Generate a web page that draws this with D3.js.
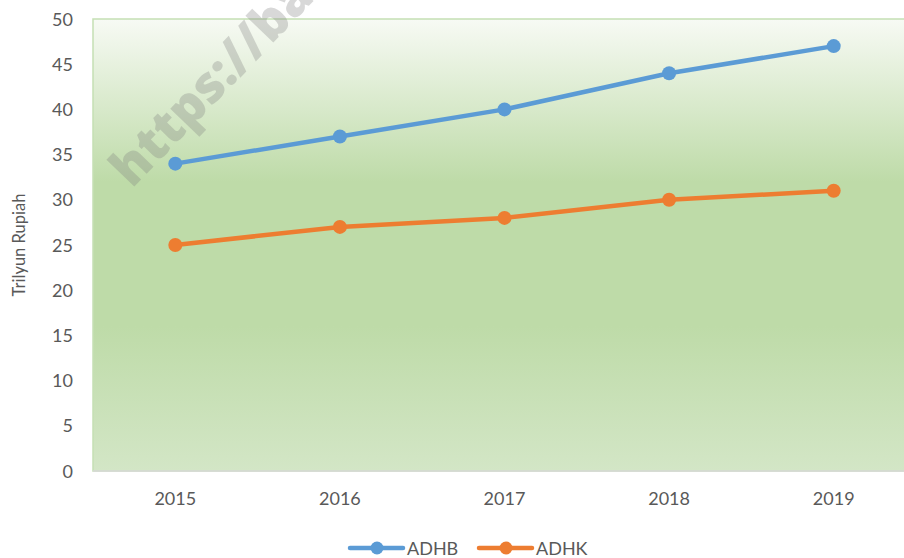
<!DOCTYPE html>
<html>
<head>
<meta charset="utf-8">
<script src="https://cdn.jsdelivr.net/npm/d3@7"></script>
<style>
  body { margin: 0; background: #fff; }
  text { font-family: Lato, "Open Sans", sans-serif; fill: #595959; }
</style>
</head>
<body>
<div class="container"></div>
<script>
var margin = {top: 19, right: -12, bottom: 87, left: 93}
    , width = 904 - margin.left - margin.right
    , height = 558 - margin.top - margin.bottom;

// COLORS
const blue = '#5b9bd5'
const orange = '#ed7d31'

// DATA
var years = ['2015', '2016', '2017', '2018', '2019']
var adhb = [34, 37, 40, 44, 47]
var adhk = [25, 27, 28, 30, 31]
var yTicks = [0, 5, 10, 15, 20, 25, 30, 35, 40, 45, 50]
var seriesNames = ['ADHB', 'ADHK']

var series = [
  {name: seriesNames[0], values: adhb, color: blue},
  {name: seriesNames[1], values: adhk, color: orange}
]

// SCALES
var x = d3.scaleBand().domain(years).range([0, width])
var y = d3.scaleLinear().domain([0, 50]).range([height, 0])

var svg = d3.select('body div.container').append('svg')
    .attr('width', 904)
    .attr('height', 558)

var defs = svg.append('defs')
var grad = defs.append('linearGradient')
    .attr('id', 'bg').attr('x1', 0).attr('y1', 0).attr('x2', 0).attr('y2', 1)
grad.append('stop').attr('offset', '0%').attr('stop-color', '#f7faf4')
grad.append('stop').attr('offset', '36%').attr('stop-color', '#bedba8')
grad.append('stop').attr('offset', '68%').attr('stop-color', '#bedba8')
grad.append('stop').attr('offset', '100%').attr('stop-color', '#d3e6c6')

var g = svg.append('g')
    .attr('transform', `translate(${margin.left},${margin.top})`)

// plot area
g.append('rect')
    .attr('width', width).attr('height', height)
    .attr('fill', 'url(#bg)')
    .attr('stroke', '#c5e0b4')
    .attr('stroke-width', 1.5)

// watermark (runs off the top edge like the original)
svg.append('text')
    .attr('transform', 'translate(132,189) rotate(-46)')
    .style('font-family', '"Open Sans", sans-serif')
    .style('font-weight', '800')
    .style('font-size', '51px')
    .style('fill', 'rgba(125,125,125,0.3)')
    .text('https://ba')

// x axis line
g.append('line')
    .attr('x1', 0).attr('x2', width)
    .attr('y1', height).attr('y2', height)
    .attr('stroke', '#d9d9d9').attr('stroke-width', 1.5)

// y tick labels
g.selectAll('.ytick')
  .data(yTicks)
  .enter().append('text')
    .attr('class', 'ytick')
    .attr('x', -20)
    .attr('y', function(d) { return y(d) + 6.5 })
    .attr('text-anchor', 'end')
    .style('font-size', '18px')
    .text(function(d) { return d })

// x tick labels
g.selectAll('.xtick')
  .data(years)
  .enter().append('text')
    .attr('class', 'xtick')
    .attr('x', function(d) { return x(d) + x.bandwidth() / 2 })
    .attr('y', height + 34)
    .attr('text-anchor', 'middle')
    .style('font-size', '18px')
    .text(function(d) { return d })

// y axis title
svg.append('text')
    .attr('transform', `translate(25,${margin.top + height / 2}) rotate(-90)`)
    .attr('text-anchor', 'middle')
    .style('font-size', '16.5px')
    .text('Trilyun Rupiah')

// lines
var line = d3.line()
    .x(function(d, i) { return x(years[i]) + x.bandwidth() / 2 })
    .y(function(d) { return y(d) })

series.forEach(function(s) {
  g.append('path')
      .attr('d', line(s.values))
      .attr('fill', 'none')
      .attr('stroke', s.color)
      .attr('stroke-width', 4.5)
      .attr('stroke-linejoin', 'round')

  g.selectAll(null)
    .data(s.values)
    .enter().append('circle')
      .attr('cx', function(d, i) { return x(years[i]) + x.bandwidth() / 2 })
      .attr('cy', function(d) { return y(d) })
      .attr('r', 7)
      .attr('fill', s.color)
})

// legend
var legend = svg.append('g').attr('transform', 'translate(350,548)')
var item = legend.selectAll('g')
  .data(series)
  .enter().append('g')
    .attr('transform', function(d, i) { return `translate(${i * 129},0)` })
item.append('line')
    .attr('x1', 0).attr('x2', 53)
    .attr('stroke', function(d) { return d.color })
    .attr('stroke-width', 4.5)
    .attr('stroke-linecap', 'round')
item.append('circle')
    .attr('cx', 27).attr('r', 6.5)
    .attr('fill', function(d) { return d.color })
item.append('text')
    .attr('x', 57).attr('y', 6.5)
    .style('font-size', '18px')
    .text(function(d) { return d.name })
</script>
</body>
</html>
